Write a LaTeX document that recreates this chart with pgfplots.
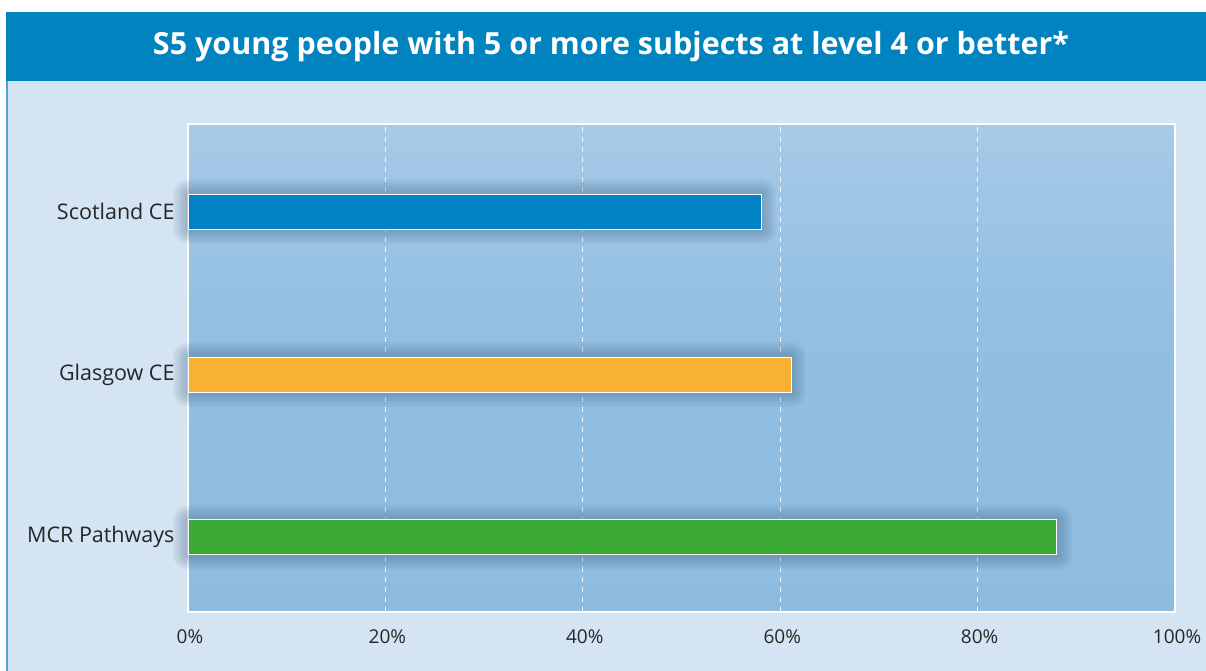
\documentclass[border=0pt]{standalone}
\usepackage{pgfplots}
\pgfplotsset{compat=1.18}
\usepackage{fontspec}
\setmainfont{Open Sans}
\definecolor{band}{HTML}{0083BF}
\definecolor{panel}{HTML}{D4E4F2}
\definecolor{edge}{HTML}{4AA3D3}
\definecolor{bblue}{HTML}{0082C4}
\definecolor{borange}{HTML}{F8B133}
\definecolor{bgreen}{HTML}{3AAA35}
\definecolor{bgtop}{HTML}{C2D8EE}
\definecolor{bgmid}{HTML}{92BFE2}
\definecolor{bgbot}{HTML}{8ABAE0}
\definecolor{shad}{HTML}{3D5F80}
\pgfdeclareverticalshading{axisbg}{100bp}{color(0bp)=(bgbot); color(55bp)=(bgmid); color(100bp)=(bgtop)}
\pgfplotsset{
  shadowlayer/.style={draw=shad, fill=none, line width=#1, line join=round, draw opacity=0.055, bar shift=0pt, forget plot},
}
\begin{document}
\begin{tikzpicture}[x=1bp,y=1bp]
\useasboundingbox (0,0) rectangle (1206,671);
\fill[white] (0,0) rectangle (1206,671);
\fill[panel] (6,0) rectangle (1206,659);
\fill[band] (6,590) rectangle (1206,659);
\draw[edge, line width=2bp] (7,0) -- (7,590);
\node[text=white, font=\fontsize{30.5bp}{36bp}\selectfont\bfseries] at (611,624) {S5 young people with 5 or more subjects at level 4 or better*};
\begin{axis}[
  at={(188bp,59bp)}, anchor=south west,
  scale only axis, width=987bp, height=488bp,
  xmin=0, xmax=100, ymin=-0.46, ymax=2.54,
  clip=false,
  xbar, bar width=35bp,
  every axis plot/.append style={bar shift=0pt},
  axis background/.style={shading=axisbg},
  axis line style={white, line width=1.5bp},
  xtick={0,20,40,60,80,100},
  xticklabels={0\%,20\%,40\%,60\%,80\%,100\%},
  ytick={0,1,2},
  yticklabels={MCR Pathways, Glasgow CE, Scotland CE},
  major tick length=0pt,
  xmajorgrids,
  major grid style={white, line width=0.9bp, dash pattern=on 5bp off 5bp, opacity=0.85},
  xticklabel style={font=\fontsize{19bp}{23bp}\selectfont, text=black!85, yshift=-14bp, xshift=2bp},
  yticklabel style={font=\fontsize{21.5bp}{26bp}\selectfont, text=black!85, xshift=-10bp},
  /pgf/number format/assume math mode=true,
]
\pgfplotsinvokeforeach{30,26,22,18,14,10,6}{
  \addplot[shadowlayer=#1bp] coordinates {(58.1,2) (61.1,1) (88.0,0)};
}
\addplot[fill=bblue, draw=white, line width=0.8bp, bar shift=0pt]
  coordinates {(58.1,2)};
\addplot[fill=borange, draw=white, line width=0.8bp, bar shift=0pt]
  coordinates {(61.1,1)};
\addplot[fill=bgreen, draw=white, line width=0.8bp, bar shift=0pt]
  coordinates {(88.0,0)};
\end{axis}
\end{tikzpicture}
\end{document}
